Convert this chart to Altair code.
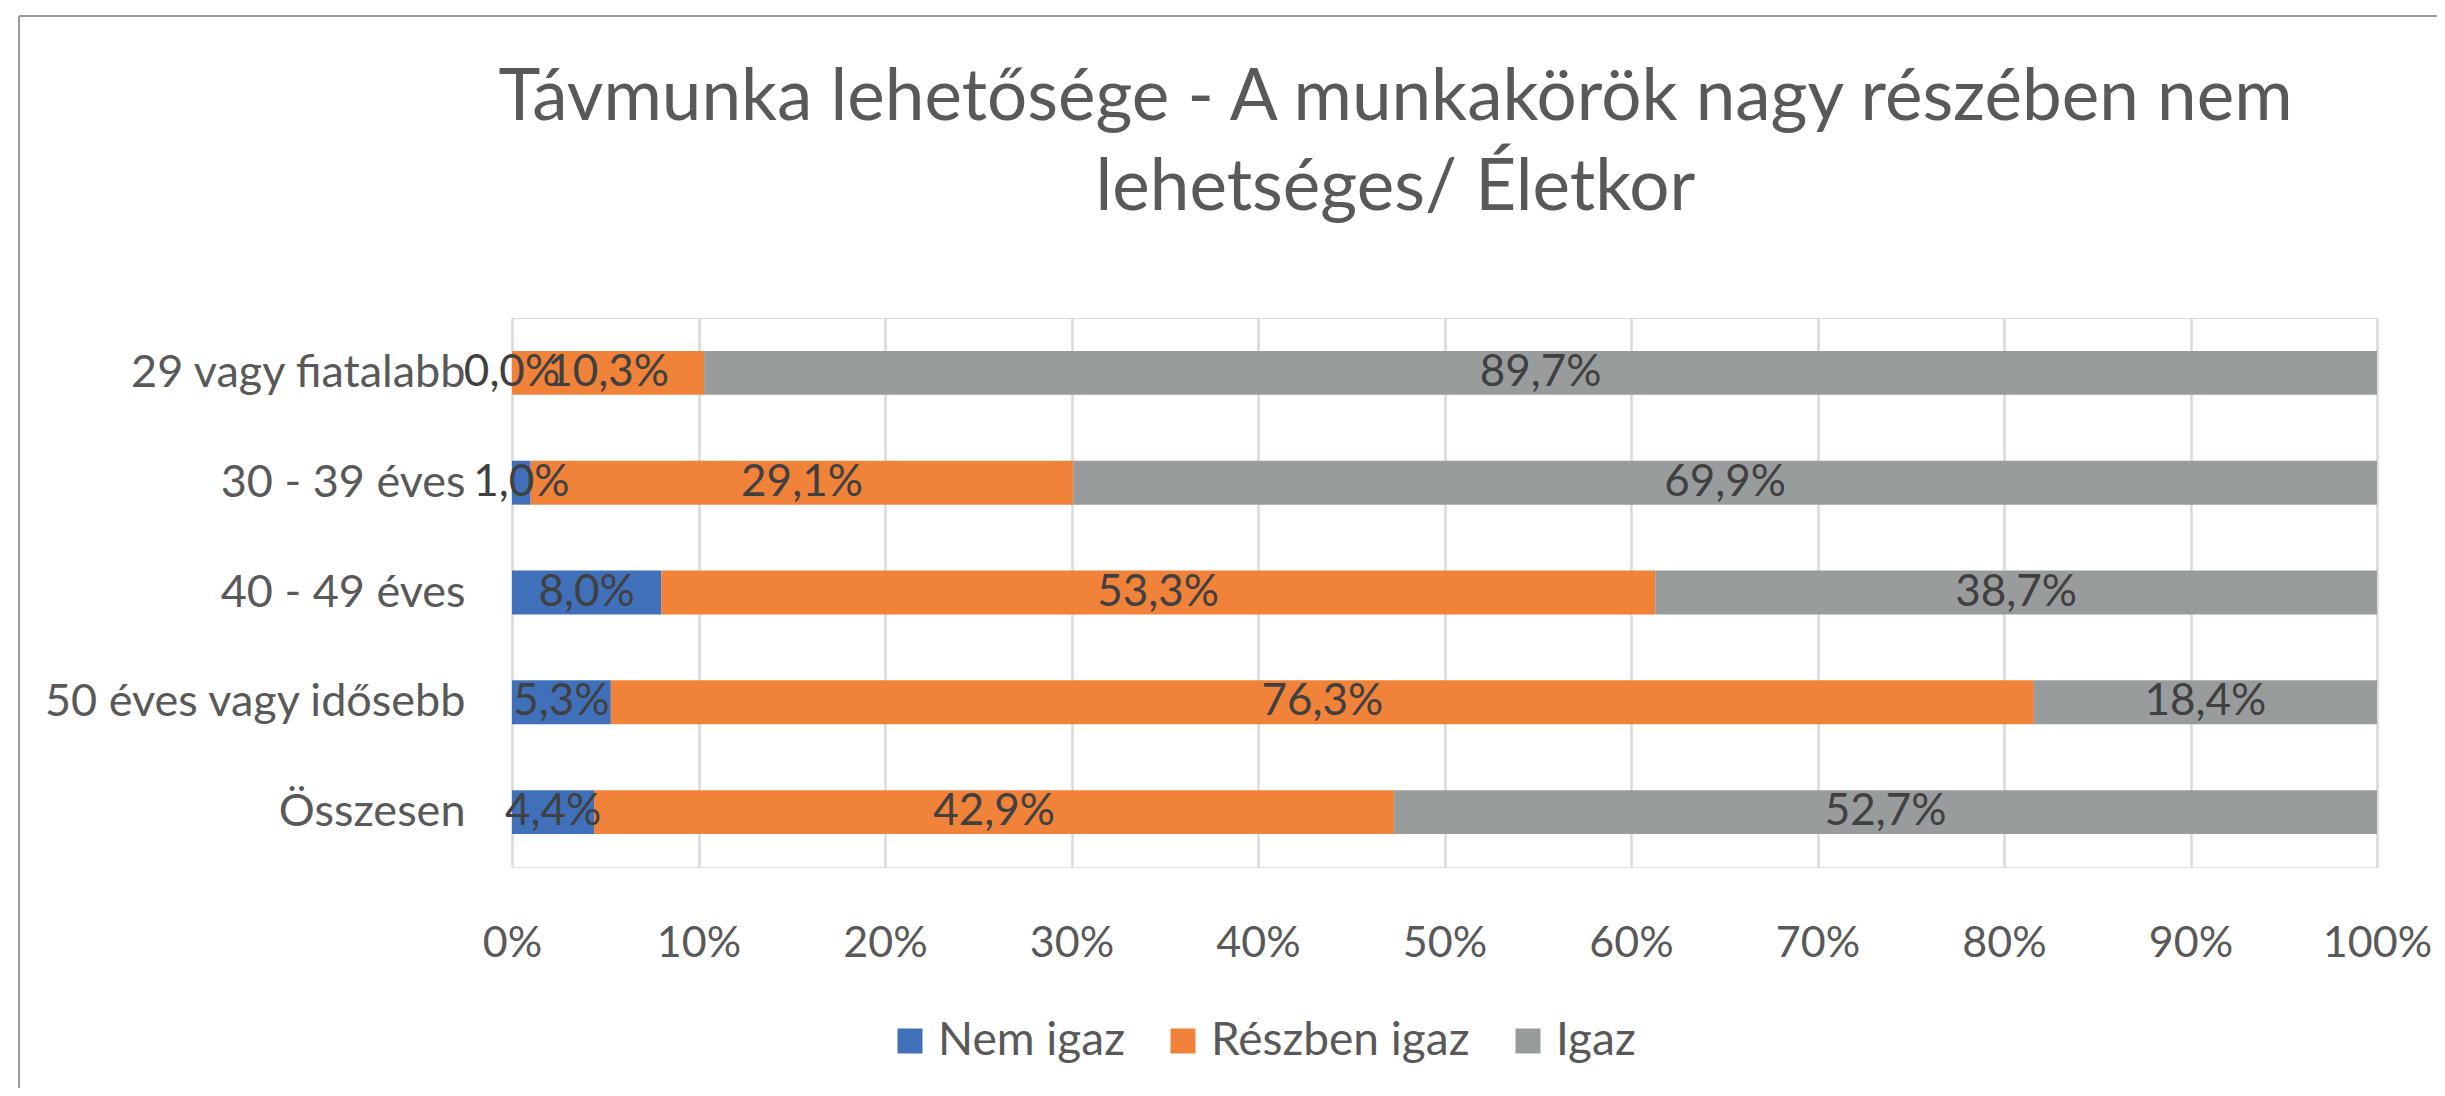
import altair as alt
import pandas as pd

categories = ["29 vagy fiatalabb", "30 - 39 éves", "40 - 49 éves", "50 éves vagy idősebb", "Összesen"]
series = ["Nem igaz", "Részben igaz", "Igaz"]
nem_igaz = [0.0, 1.0, 8.0, 5.3, 4.4]
reszben_igaz = [10.3, 29.1, 53.3, 76.3, 42.9]
igaz = [89.7, 69.9, 38.7, 18.4, 52.7]
colors = ["#4170BA", "#F0823A", "#999C9C"]
x_ticks = [0, 10, 20, 30, 40, 50, 60, 70, 80, 90, 100]

rows = []
for s_i, (s, vals) in enumerate(zip(series, [nem_igaz, reszben_igaz, igaz])):
    for c, v in zip(categories, vals):
        rows.append({"cat": c, "series": s, "order": s_i, "value": v,
                     "label": f"{v:.1f}%".replace(".", ",")})
df = pd.DataFrame(rows)

FONT = "Lato"

base = alt.Chart(df).transform_stack(
    stack="value", groupby=["cat"], as_=["x0", "x1"], sort=[alt.SortField("order")]
).transform_calculate(mid="(datum.x0 + datum.x1) / 2")

y_enc = alt.Y("cat:N", sort=categories, title=None,
              scale=alt.Scale(paddingInner=0.6, paddingOuter=0.3),
              axis=alt.Axis(labelFont=FONT, labelFontSize=45, labelColor="#595959",
                            labelPadding=47, labelLimit=1000, ticks=False, domain=False,
                            grid=False))

bars = base.mark_bar().encode(
    x=alt.X("x0:Q", scale=alt.Scale(domain=[0, 100], nice=False), title=None,
            axis=alt.Axis(values=x_ticks, labelExpr="datum.value + '%'",
                          labelFont=FONT, labelFontSize=43, labelColor="#595959",
                          labelPadding=55, labelFlush=False, labelOverlap=False,
                          ticks=False, domain=False,
                          grid=True, gridColor="#D9D9D9", gridWidth=2.5)),
    x2="x1:Q",
    y=y_enc,
    color=alt.Color("series:N", sort=series,
                    scale=alt.Scale(domain=series, range=colors),
                    legend=alt.Legend(title=None, orient="none", legendX=375, legendY=700,
                                      direction="horizontal", symbolType="square",
                                      symbolSize=625, symbolStrokeWidth=0,
                                      labelFont=FONT, labelFontSize=46, labelLimit=1000,
                                      labelColor="#595959", columnPadding=35,
                                      labelOffset=5)),
    order=alt.Order("order:Q"),
)

texts = base.mark_text(font=FONT, fontSize=44, color="#404040", baseline="middle",
                       align="center").encode(
    x=alt.X("mid:Q"),
    y=alt.Y("cat:N", sort=categories),
    text="label:N",
)

frame_top = alt.Chart(pd.DataFrame({"k": [0]})).mark_rule(
    color="#9A9A9A", strokeWidth=2, clip=False).encode(
    x=alt.value(-493), x2=alt.value(1933), y=alt.value(-302))
frame_left = alt.Chart(pd.DataFrame({"k": [0]})).mark_rule(
    color="#9A9A9A", strokeWidth=2, clip=False).encode(
    x=alt.value(-493), y=alt.value(-302), y2=alt.value(778))

chart = alt.layer(frame_top, frame_left, bars, texts).properties(
    width=1865, height=549,
    autosize=alt.AutoSizeParams(type="none"),
    padding={"left": 504, "top": 310, "right": 60, "bottom": 221},
    title=alt.TitleParams(
        text=["Távmunka lehetősége - A munkakörök nagy részében nem", "lehetséges/ Életkor"],
        font=FONT, fontSize=71, fontWeight="normal", color="#595959",
        lineHeight=90, offset=-281, dx=-49, anchor="middle", baseline="bottom"),
).configure_view(stroke=None).configure(background="white")

chart.save("out.html", embed_options={"renderer": "svg", "actions": False})
